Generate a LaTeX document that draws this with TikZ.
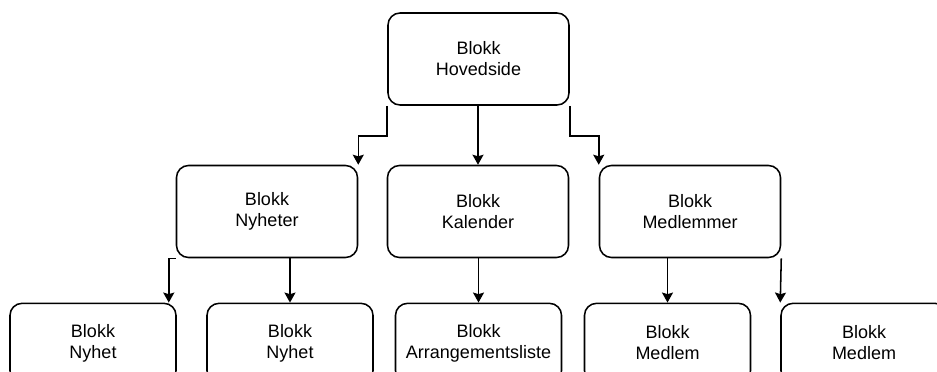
\documentclass[tikz,border=0pt]{standalone}
\usepackage{fontspec}
\setmainfont{Liberation Sans}
\usetikzlibrary{arrows.meta}
\tikzset{
  blokk/.style={draw=black, line width=1.15pt, rounded corners=9pt, rectangle, align=center,
    inner sep=0pt, minimum width=135.75pt, minimum height=69pt, fill=white,
    font=\fontsize{13.5pt}{15.75pt}\selectfont},
  leaf/.style={blokk, minimum width=124.5pt, minimum height=59.5pt},
  conn/.style={line width=1.15pt, -{Stealth[length=7.5pt,width=8.25pt,inset=1.2pt]}}
}
\begin{document}
\begin{tikzpicture}[x=0.75pt,y=-0.75pt]
\useasboundingbox (0,0) rectangle (937,371);
\fill[white] (0,0) rectangle (937,371);
\clip (0,0) rectangle (937,371);
\node[blokk] (top) at (478.5,59) {Blokk\\Hovedside};
\node[blokk] (nyheter) at (267,211.5) {Blokk\\Nyheter};
\node[blokk] (kalender) at (478,211.5) {Blokk\\Kalender};
\node[blokk] (medlemmer) at (690,211.5) {Blokk\\Medlemmer};
\node[leaf] (nyhet1) at (93,343) {Blokk\\Nyhet};
\node[leaf] (nyhet2) at (290,343) {Blokk\\Nyhet};
\node[leaf] (arr) at (478.5,343) {Blokk\\Arrangementsliste};
\node[leaf] (medlem1) at (667.5,343) {Blokk\\Medlem};
\node[leaf] (medlem2) at (864,343) {Blokk\\Medlem};
% top -> row 2
\draw[conn] (top.south west) -- ++(0,30) -| (nyheter.north east);
\draw[conn] (kalender.north |- top.south) -- (kalender.north);
\draw[conn] (top.south east) -- ++(0,30) -| (medlemmer.north west);
% row 2 -> row 3
\draw[conn] (nyheter.south west) -| ([xshift=-6pt]nyhet1.north east);
\draw[conn] (nyhet2.north |- nyheter.south) -- (nyhet2.north);
\draw[conn] (arr.north |- kalender.south) -- (arr.north);
\draw[conn] (medlem1.north |- medlemmer.south) -- (medlem1.north);
\draw[conn] (medlemmer.south east) -- (medlem2.north west);
\end{tikzpicture}
\end{document}
